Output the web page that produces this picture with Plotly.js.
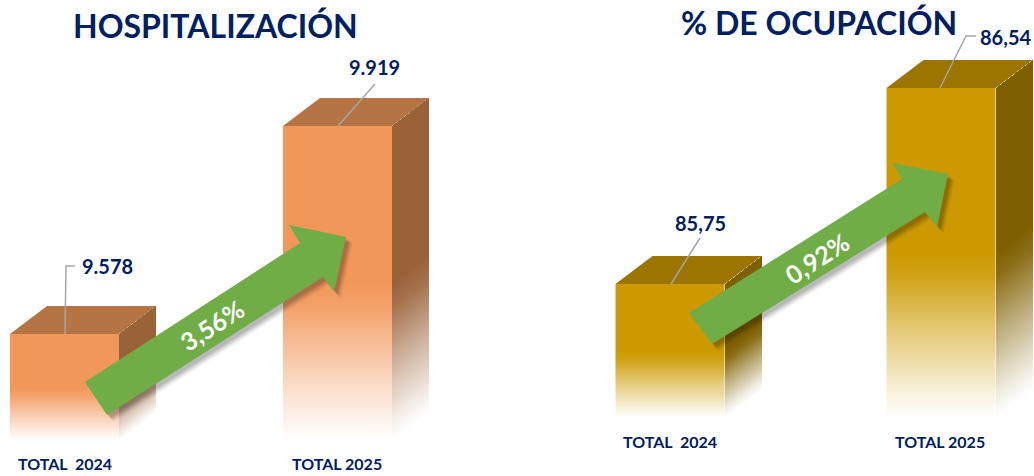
<!DOCTYPE html>
<html>
<head>
<meta charset="utf-8">
<script src="https://cdn.plot.ly/plotly-3.0.1.min.js"></script>
<style>html,body{margin:0;padding:0;background:#fff;overflow:hidden}#c{width:1034px;height:476px}</style>
</head>
<body>
<div id="c"></div>
<script>
// ---- data ----
const categories = ['TOTAL \u00a02024', 'TOTAL 2025'];
const hospValues = [9578, 9919];
const hospLabels = ['9.578', '9.919'];
const hospChange = '3,56%';
const ocupValues = [85.75, 86.54];
const ocupLabels = ['85,75', '86,54'];
const ocupChange = '0,92%';
const chartTitles = ['HOSPITALIZACIÓN', '% DE OCUPACIÓN'];

// ---- scales and styling ----
const W = 1034, H = 476;
const NAVY = '#002060';
const FONT = 'Lato, "Open Sans", sans-serif';
const panels = [
  {values: hospValues, xa: 'x', ya: 'y', x0: 64.5, pxPerCat: 273, base: 441, top0: 334, pxPerUnit: 208 / 341,
   front: [242,151,90], topFace: [181,116,68], side: [154,98,57]},
  {values: ocupValues, xa: 'x2', ya: 'y2', x0: 670, pxPerCat: 271, base: 418, top0: 284, pxPerUnit: 196 / 0.79,
   front: [204,153,0], topFace: [155,117,0], side: [127,96,0]}
];
const BAR_PX = 109, DX = 37, DY = 28, SIDE_STRIPS = 37;

const traces = [];
const stripIdx = [];
panels.forEach(p => {
  p.yMin = p.values[0] - (H - p.top0) / p.pxPerUnit;
  p.yMax = p.values[0] + p.top0 / p.pxPerUnit;
  p.xMin = -p.x0 / p.pxPerCat;
  p.xMax = (W - p.x0) / p.pxPerCat;
  const baseVal = p.values[0] - (p.base - p.top0) / p.pxPerUnit;
  const hw = BAR_PX / 2 / p.pxPerCat, dx = DX / p.pxPerCat, dy = DY / p.pxPerUnit;
  const rgba = (c, a) => `rgba(${c[0]},${c[1]},${c[2]},${a})`;
  const fade = (c, start, stop) => ({type: 'vertical', start: start, stop: stop,
    colorscale: [[0, rgba(c,0)], [0.15, rgba(c,0.13)], [0.5, rgba(c,0.5)], [0.85, rgba(c,0.9)], [1, rgba(c,1)]]});
  p.values.forEach((val, i) => {
    const mid = (val + baseVal) / 2;
    const common = {mode: 'none', fill: 'toself', xaxis: p.xa, yaxis: p.ya, hoverinfo: 'skip', showlegend: false};
    // side face: strips whose fade follows the receding bottom edge
    for (let k = 0; k < SIDE_STRIPS; k++) {
      const a = k / SIDE_STRIPS, b = (k + 1) / SIDE_STRIPS, m = (a + b) / 2;
      const xl = i + hw + dx * a, xr = i + hw + dx * b;
      stripIdx.push(traces.length);
      traces.push(Object.assign({}, common, {
        x: [xl, xr, xr, xl, xl],
        y: [baseVal + dy * m, baseVal + dy * m, val + dy * m, val + dy * m, baseVal + dy * m],
        fillgradient: fade(p.side, baseVal + dy * m, mid + dy * m)}));
    }
    traces.push(Object.assign({}, common, {
      x: [i-hw, i+hw, i+hw+dx, i-hw+dx, i-hw], y: [val, val, val+dy, val+dy, val],
      fillcolor: rgba(p.topFace,1)}));
    traces.push(Object.assign({}, common, {
      x: [i-hw, i+hw, i+hw, i-hw, i-hw], y: [baseVal, baseVal, val, val, baseVal],
      fillgradient: fade(p.front, baseVal, mid)}));
  });
});

const px = x => x / W, py = y => 1 - y / H;
const polyPath = (pts, ox, oy) => 'M' + pts.map(q => `${px(q[0]+ox)} ${py(q[1]+oy)}`).join(' L') + ' Z';
const arrows = [
  [[85,382],[300,243],[289,225],[346,237],[334,292],[323,277],[107,415]],
  [[689,313],[902,179],[892,163],[948,174],[937,227],[925,212],[712,344]]
];
const shapes = [];
arrows.forEach(a => {
  [[7,7,0.03],[6,6,0.05],[5,5,0.07],[4,4,0.08],[3,3,0.08]].forEach(s => shapes.push({
    type: 'path', xref: 'paper', yref: 'paper', path: polyPath(a, s[0], s[1]),
    fillcolor: `rgba(0,0,0,${s[2]})`, line: {width: 0}}));
  shapes.push({type: 'path', xref: 'paper', yref: 'paper', path: polyPath(a, 0, 0),
    fillcolor: '#70AD47', line: {width: 0}});
});
const leaders = [
  [[65,334],[66,266],[75,266]],
  [[338,126],[375,84]],
  [[671,284],[700,238]],
  [[940,88],[966,36],[976,36]]
];
leaders.forEach(l => {
  shapes.push({type: 'path', xref: 'paper', yref: 'paper',
    path: 'M' + l.map(q => `${px(q[0])} ${py(q[1])}`).join(' L'),
    line: {color: '#A6A6A6', width: 1.5}});
});

const txt = (text, x, y, size, color, extra) => Object.assign({
  text: text, xref: 'paper', yref: 'paper', x: px(x), y: py(y),
  xanchor: 'center', yanchor: 'middle', showarrow: false,
  font: {family: FONT, size: size, color: color, weight: 700}}, extra || {});
const annotations = [
  txt(chartTitles[0], 215.5, 25, 32, NAVY),
  txt(chartTitles[1], 819, 22, 32, NAVY),
  txt(hospLabels[0], 107, 266, 20, NAVY),
  txt(hospLabels[1], 374, 67, 20, NAVY),
  txt(ocupLabels[0], 700, 223, 20, NAVY),
  txt(ocupLabels[1], 1005, 37, 20, NAVY),
  txt(categories[0], 64.5, 463, 16, NAVY),
  txt(categories[1], 337, 463, 16, NAVY),
  txt(categories[0], 670, 441, 16, NAVY),
  txt(categories[1], 940, 441, 16, NAVY),
  txt(hospChange, 212, 325, 25, '#FFFFFF', {textangle: -33}),
  txt(ocupChange, 817, 258, 25, '#FFFFFF', {textangle: -33})
];

const axisOff = {visible: false, fixedrange: true};
const layout = {
  width: W, height: H, autosize: false,
  margin: {l: 0, r: 0, t: 0, b: 0, pad: 0},
  paper_bgcolor: '#FFFFFF', plot_bgcolor: '#FFFFFF', showlegend: false,
  xaxis: Object.assign({range: [panels[0].xMin, panels[0].xMax]}, axisOff),
  yaxis: Object.assign({range: [panels[0].yMin, panels[0].yMax]}, axisOff),
  xaxis2: Object.assign({range: [panels[1].xMin, panels[1].xMax], overlaying: 'x'}, axisOff),
  yaxis2: Object.assign({range: [panels[1].yMin, panels[1].yMax], overlaying: 'y'}, axisOff),
  shapes: shapes, annotations: annotations
};
Plotly.newPlot('c', traces, layout, {displayModeBar: false, staticPlot: true}).then(() => {
  const fills = document.querySelectorAll('.scatterlayer .trace .js-fill');
  stripIdx.forEach(i => { if (fills[i]) fills[i].style.shapeRendering = 'crispEdges'; });
});
</script>
</body>
</html>
